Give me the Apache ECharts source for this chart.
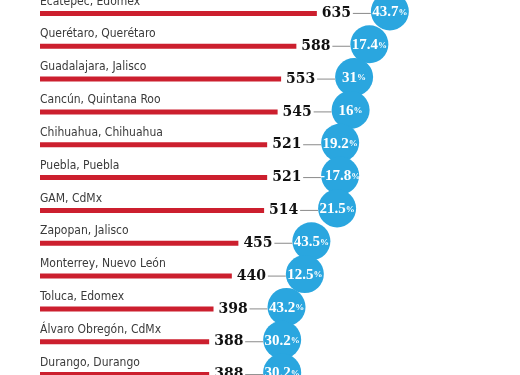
<!DOCTYPE html>
<html>
<head>
<meta charset="utf-8">
<script src="https://cdn.jsdelivr.net/npm/echarts@6/dist/echarts.min.js"></script>
<style>
  html, body { margin: 0; padding: 0; background: #fff; }
  #chart { width: 520px; height: 375px; }
</style>
</head>
<body>
<div id="chart"></div>
<script>
// ciudades, total y variación
var ciudades = ['Ecatepec, Edomex', 'Querétaro, Querétaro', 'Guadalajara, Jalisco', 'Cancún, Quintana Roo',
    'Chihuahua, Chihuahua', 'Puebla, Puebla', 'GAM, CdMx', 'Zapopan, Jalisco',
    'Monterrey, Nuevo León', 'Toluca, Edomex', 'Álvaro Obregón, CdMx', 'Durango, Durango'];
var totales = [635, 588, 553, 545, 521, 521, 514, 455, 440, 398, 388, 388];
var variacion = ['43.7', '17.4', '31', '16', '19.2', '-17.8', '21.5', '43.5', '12.5', '43.2', '30.2', '30.2'];

var myChart = echarts.init(document.getElementById('chart'));

var circulos = totales.map(function (v, i) {
    return [v, i, variacion[i]];
});

var option = {
    animation: false,
    grid: {
        left: 40,
        width: 436,
        top: -3,
        height: 394,
        outerBoundsMode: 'none',
        containLabel: false
    },
    xAxis: {
        type: 'value',
        min: 0,
        max: 1000,
        show: false
    },
    yAxis: {
        type: 'category',
        inverse: true,
        data: ciudades,
        axisLine: { show: false },
        axisTick: { show: false },
        axisLabel: {
            inside: true,
            margin: 0,
            verticalAlign: 'bottom',
            align: 'left',
            padding: [0, 0, 6, 0],
            color: '#3a3a3a',
            fontFamily: 'DejaVu Sans Condensed, DejaVu Sans',
            fontSize: 12
        }
    },
    series: [
        {
            type: 'bar',
            data: totales,
            barWidth: 5,
            itemStyle: { color: '#cc1f2e' },
            label: {
                show: true,
                position: 'right',
                distance: 5,
                color: '#111',
                fontFamily: 'DejaVu Serif',
                fontWeight: 'bold',
                fontSize: 14
            }
        },
        {
            type: 'custom',
            data: circulos,
            renderItem: function (params, api) {
                var p = api.coord([api.value(0), api.value(1)]);
                var pct = circulos[params.dataIndex][2];
                var cx = p[0] + 73, cy = p[1] - 2;
                return {
                    type: 'group',
                    children: [
                        {
                            type: 'line',
                            shape: { x1: p[0] + 36, y1: p[1], x2: cx - 19, y2: p[1] },
                            style: { stroke: '#8a8a8a', lineWidth: 1 }
                        },
                        {
                            type: 'circle',
                            shape: { cx: cx, cy: cy, r: 19 },
                            style: { fill: '#2aa6df' }
                        },
                        {
                            type: 'text',
                            x: cx,
                            y: cy + 1,
                            style: {
                                text: '{n|' + pct + '}{p|%}',
                                align: 'center',
                                verticalAlign: 'middle',
                                rich: {
                                    n: { fill: '#fff', fontFamily: 'Liberation Serif', fontWeight: 'bold', fontSize: 15 },
                                    p: { fill: '#fff', fontFamily: 'Liberation Serif', fontWeight: 'bold', fontSize: 9 }
                                }
                            }
                        }
                    ]
                };
            }
        }
    ]
};

myChart.setOption(option, true);
</script>
</body>
</html>
